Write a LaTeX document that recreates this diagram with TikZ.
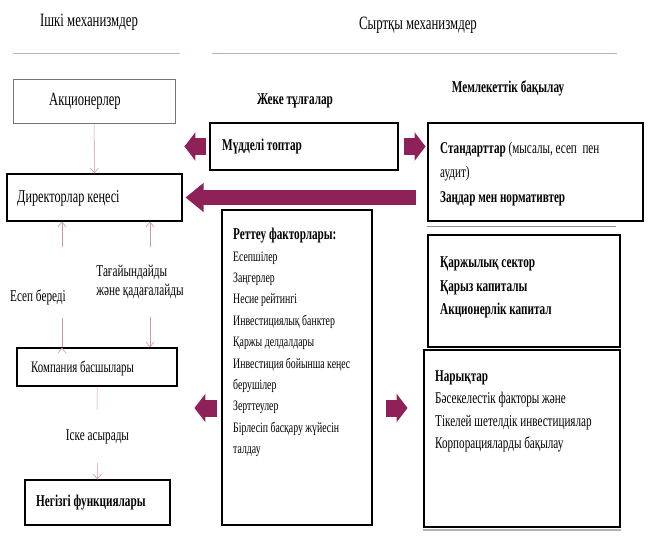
\documentclass[tikz,border=0pt]{standalone}
\usepackage{fontspec}
\setmainfont{Liberation Serif}[FakeStretch=0.68]
\usetikzlibrary{arrows.meta}
\definecolor{fatred}{RGB}{142,33,87}
\definecolor{thinpink}{RGB}{210,150,170}
\definecolor{rulepink}{RGB}{205,170,180}
\tikzset{
  box/.style={draw=black, line width=1.1pt, inner sep=0pt},
  shade line/.style={draw=black!45, line width=1.2pt},
  headtext/.style={font=\fontsize{18.8}{22}\selectfont, inner sep=0pt},
  boxtext/.style={font=\fontsize{16.5}{19}\selectfont, inner sep=0pt, anchor=west},
  boxbold/.style={font=\fontsize{16.5}{19}\selectfont\bfseries, inner sep=0pt, anchor=west},
  listtext/.style={inner sep=0pt, anchor=north west, align=left},
  steplabel/.style={fill=white, inner sep=1pt, font=\fontsize{16.5}{19}\selectfont, align=left},
  thinarrow/.style={draw=thinpink, line width=0.6pt, -{Straight Barb[length=5pt,width=8pt]}},
  fatarrow/.style={draw=fatred, line width=17pt, -{Triangle[length=11pt,width=28pt]}},
}
\begin{document}
\begin{tikzpicture}[x=1pt,y=-1pt]
\useasboundingbox (0,0) rectangle (649,549);
% headings
\node[headtext] (inhead) at (89,22) {Ішкі механизмдер};
\node[headtext] (outhead) at (418,25) {Сыртқы механизмдер};
\draw[draw=rulepink, line width=0.8pt] (13,53) -- (180,53);
\draw[draw=rulepink, line width=0.8pt] (212,53) -- (617,53);
% inner mechanisms
\node[box, draw=black!55, line width=0.9pt, minimum width=162pt, minimum height=44pt] (holders) at (94,101) {};
\node[boxtext, anchor=center, font=\fontsize{18.5}{21}\selectfont] (holderst) at (85,101) {Акционерлер};
\node[box, minimum width=175pt, minimum height=47pt] (board) at (94.5,197.5) {};
\node[boxtext, font=\fontsize{18}{21}\selectfont] (boardt) at (17,198) {Директорлар кеңесі};
\node[box, minimum width=160pt, minimum height=38pt] (heads) at (97,367) {};
\node[boxtext, font=\fontsize{16}{19}\selectfont] (headst) at (31,368) {Компания басшылары};
\node[box, minimum width=145pt, minimum height=45pt] (funcs) at (97.5,502.5) {};
\node[boxbold] (funcst) at (36,503) {Негізгі функциялары};
\path[thinarrow] (holders) edge (board);
\path[thinarrow] ([xshift=-35pt]heads.north) edge ([xshift=-32.5pt]board.south);
\path[thinarrow] ([xshift=55.5pt]board.south) edge ([xshift=53pt]heads.north);
\path[thinarrow] (heads) edge (funcs);
\node[steplabel, text height=53pt, text depth=16pt, anchor=base] (report) at (38,301) {Есеп береді};
\node[steplabel, minimum height=70pt] (appoint) at (140,282) {Тағайындайды\\және қадағалайды};
\node[steplabel, minimum height=53pt] (apply) at (97.5,436.5) {Іске асырады};
% outer mechanisms
\node[boxbold, anchor=center] (personst) at (295,101) {Жеке тұлғалар};
\node[boxbold, anchor=center] (statet) at (508,88) {Мемлекеттік бақылау};
\node[box, minimum width=188pt, minimum height=47pt] (interest) at (304,146.5) {};
\node[boxbold] (interestt) at (222,147) {Мүдделі топтар};
\node[box, minimum width=150pt, minimum height=315pt] (regul) at (297,367.5) {};
\node[listtext, font=\fontsize{14.4}{21.4}\selectfont] (regult) at (233,228) {{\fontsize{16.5}{21.4}\selectfont\bfseries Реттеу факторлары:}\\Есепшілер\\Заңгерлер\\Несие рейтингі\\Инвестициялық банктер\\Қаржы делдалдары\\Инвестиция бойынша кеңес\\берушілер\\Зерттеулер\\Бірлесіп басқару жүйесін\\талдау};
\node[box, minimum width=215pt, minimum height=98pt] (stand) at (535.5,172) {};
\draw[shade line] ([yshift=-5pt]stand.south west) -- ([xshift=-28pt,yshift=-5pt]stand.south east);
\node[listtext, font=\fontsize{16.4}{24.5}\selectfont] (standt) at (440,141.5) {\textbf{Стандарттар} (мысалы, есеп\ \ пен\\аудит)\\\textbf{Заңдар мен нормативтер}};
\node[box, minimum width=192pt, minimum height=112pt] (finance) at (524,291) {};
\node[listtext, font=\fontsize{16.5}{23.5}\selectfont\bfseries] (financet) at (440,256.5) {Қаржылық сектор\\Қарыз капиталы\\Акционерлік капитал};
\node[box, minimum width=196pt, minimum height=177pt] (markets) at (522,438.5) {};
\draw[shade line, draw=black!30, line width=2pt] ([yshift=-2.5pt]markets.south west) -- ([yshift=-2.5pt]markets.south east);
\node[listtext, font=\fontsize{16.4}{22.3}\selectfont] (marketst) at (435,370.5) {\textbf{Нарықтар}\\Бәсекелестік факторы және\\Тікелей шетелдік инвестициялар\\Корпорацияларды бақылау};
% fat arrows
\draw[fatarrow] ([xshift=-3pt]interest.west) -- ([xshift=-25pt]interest.west);
\draw[fatarrow] ([xshift=5pt]interest.east) -- ([xshift=27pt]interest.east);
\draw[fatarrow, line width=15pt, -{Triangle[length=18pt,width=28pt]}] ([xshift=233pt]board.east) -- ([xshift=3pt]board.east);
\draw[fatarrow] ([xshift=-4pt,yshift=-40.5pt]regul.west) -- ([xshift=-27pt,yshift=-40.5pt]regul.west);
\draw[fatarrow] ([xshift=13pt,yshift=-40.5pt]regul.east) -- ([xshift=35pt,yshift=-40.5pt]regul.east);
\end{tikzpicture}
\end{document}
